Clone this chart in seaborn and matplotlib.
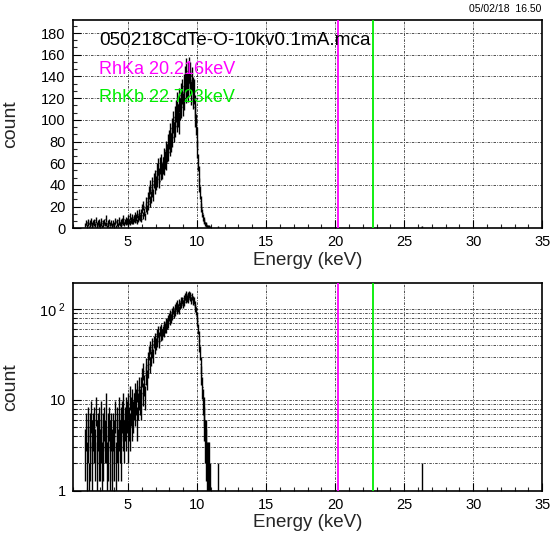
import numpy as np
import pandas as pd
import matplotlib
matplotlib.use("Agg")
import matplotlib.pyplot as plt
import seaborn as sns
from matplotlib.ticker import MultipleLocator, AutoMinorLocator, FixedLocator, FixedFormatter, NullFormatter

# ---- data ----
bin_start = 1.90          # keV, left edge of first bin
bin_width = 0.05          # keV
counts = [
    3, 5, 2, 6, 4, 1, 5, 3, 7, 4,
    2, 5, 4, 6, 3, 8, 4, 2, 5, 3,
    6, 3, 4, 7, 2, 5, 3, 6, 4, 9,
    4, 2, 5, 3, 6, 1, 4, 5, 3, 2,
    5, 3, 4, 7, 2, 6, 4, 3, 8, 5,
    4, 6, 3, 7, 5, 9, 4, 6, 8, 5,
    7, 4, 9, 6, 11, 5, 8, 6, 10, 7,
    9, 12, 8, 10, 6, 13, 9, 11, 14, 10,
    14, 9, 18, 12, 21, 15, 11, 19, 24, 17,
    28, 22, 33, 25, 38, 29, 35, 41, 31, 44,
    38, 47, 42, 53, 45, 57, 49, 44, 58, 52,
    61, 53, 58, 66, 57, 63, 72, 62, 69, 78,
    70, 82, 75, 88, 79, 92, 84, 98, 89, 103,
    94, 108, 99, 115, 104, 97, 118, 110, 123, 112,
    126, 114, 131, 120, 138, 127, 145, 132, 141, 128,
    146, 134, 141, 125, 137, 128, 121, 126, 112, 104,
    96, 84, 73, 61, 50, 40, 33, 25, 19, 14,
    10, 8, 6, 4, 4, 3, 2, 2, 1, 2,
    0, 1, 0, 0, 0, 0, 0, 0, 0, 0,
]
sparse_energy = [11.52, 26.26]
sparse_counts = [1, 1]

line_names = ["RhKa", "RhKb"]
line_energies = [20.216, 22.723]
line_colors = ["#ff00ff", "#00ee00"]

title_text = "050218CdTe-O-10kv0.1mA.mca"
date_text = "05/02/18  16.50"

# ---- build table ----
counts_arr = np.array(counts, dtype=float)
centers = bin_start + bin_width * (np.arange(len(counts_arr)) + 0.5)
df = pd.DataFrame({"energy": np.concatenate([centers, sparse_energy]),
                   "count": np.concatenate([counts_arr, sparse_counts]),
                   "xerr": np.concatenate([np.full(len(counts_arr), bin_width / 2),
                                           np.full(len(sparse_counts), bin_width / 2)])})
df = df[df["count"] > 0].reset_index(drop=True)
df["err"] = np.sqrt(df["count"])

sns.set_theme(style="white")
plt.rcParams["font.family"] = ["Liberation Sans", "DejaVu Sans"]
plt.rcParams["mathtext.fontset"] = "custom"
plt.rcParams["mathtext.rm"] = "Liberation Sans"
plt.rcParams["mathtext.it"] = "Liberation Sans"

fig = plt.figure(figsize=(5.5, 5.39), dpi=100)
L, R = 72.7 / 550, 542.3 / 550
ax1 = fig.add_axes([L, 1 - 228.3 / 539, R - L, (228.3 - 20) / 539])
ax2 = fig.add_axes([L, 1 - 490.7 / 539, R - L, (490.7 - 283.3) / 539])

grid_kw = dict(color="black", lw=0.6, ls=(0, (3, 1.5, 1, 1.5)), alpha=0.8, zorder=1)

for ax, logy in [(ax1, False), (ax2, True)]:
    ax.set_facecolor("white")
    if logy:
        ax.set_yscale("log")
        ax.set_ylim(1, 192)
        ax.yaxis.set_major_locator(FixedLocator([1, 10, 100]))
        ax.yaxis.set_major_formatter(FixedFormatter(["1", "10", r"$10^{\ 2}$"]))
        ax.yaxis.set_minor_locator(FixedLocator([2, 3, 4, 5, 6, 7, 8, 9, 20, 30, 40, 50, 60, 70, 80, 90]))
        ax.yaxis.set_minor_formatter(NullFormatter())
        for yv in [2, 3, 4, 5, 6, 7, 8, 9, 10, 20, 30, 40, 50, 60, 70, 80, 90, 100]:
            ax.axhline(yv, **grid_kw)
    else:
        ax.set_ylim(0, 192)
        ax.yaxis.set_major_locator(MultipleLocator(20))
        ax.yaxis.set_minor_locator(AutoMinorLocator(3))
        for yv in range(20, 181, 20):
            ax.axhline(yv, **grid_kw)
    ax.set_xlim(1, 35)
    ax.xaxis.set_major_locator(FixedLocator([5, 10, 15, 20, 25, 30, 35]))
    ax.xaxis.set_minor_locator(MultipleLocator(1))
    for xv in [5, 10, 15, 20, 25, 30]:
        ax.axvline(xv, **grid_kw)

    ax.errorbar(df["energy"], df["count"], yerr=df["err"], xerr=df["xerr"],
                fmt="none", ecolor="black", elinewidth=1.0, capsize=0, zorder=3)
    for e, c in zip(line_energies, line_colors):
        ax.axvline(e, color=c, lw=1.3, zorder=4)

    ax.tick_params(axis="both", which="major", direction="in", length=6, width=0.8,
                   labelsize=10.5, colors="black", bottom=True, left=True, top=False, right=False,
                   pad=5)
    ax.tick_params(axis="both", which="minor", direction="in", length=3, width=0.8,
                   bottom=True, left=True, top=False, right=False)
    for s in ax.spines.values():
        s.set_visible(True)
        s.set_color("black")
        s.set_linewidth(1.2)
    ax.set_xlabel("Energy (keV)", fontsize=13.5, labelpad=2)
    ax.set_ylabel("count", fontsize=14, labelpad=10)
    ax.yaxis.set_label_coords(-0.115, 0.5)

ax1.text(0.057, 0.90, title_text, transform=ax1.transAxes, fontsize=13.7,
         color="black", ha="left", va="center", zorder=5)
for i, (n, e, c) in enumerate(zip(line_names, line_energies, line_colors)):
    ax1.text(0.057, 0.763 - 0.135 * i, f"{n} {e:.3f}keV", transform=ax1.transAxes,
             fontsize=13, color=c, ha="left", va="center", zorder=5)

fig.text(541 / 550, 1 - 9 / 539, date_text, fontsize=7.5, ha="right", va="center", color="black")

fig.savefig("out.png", dpi=100)
